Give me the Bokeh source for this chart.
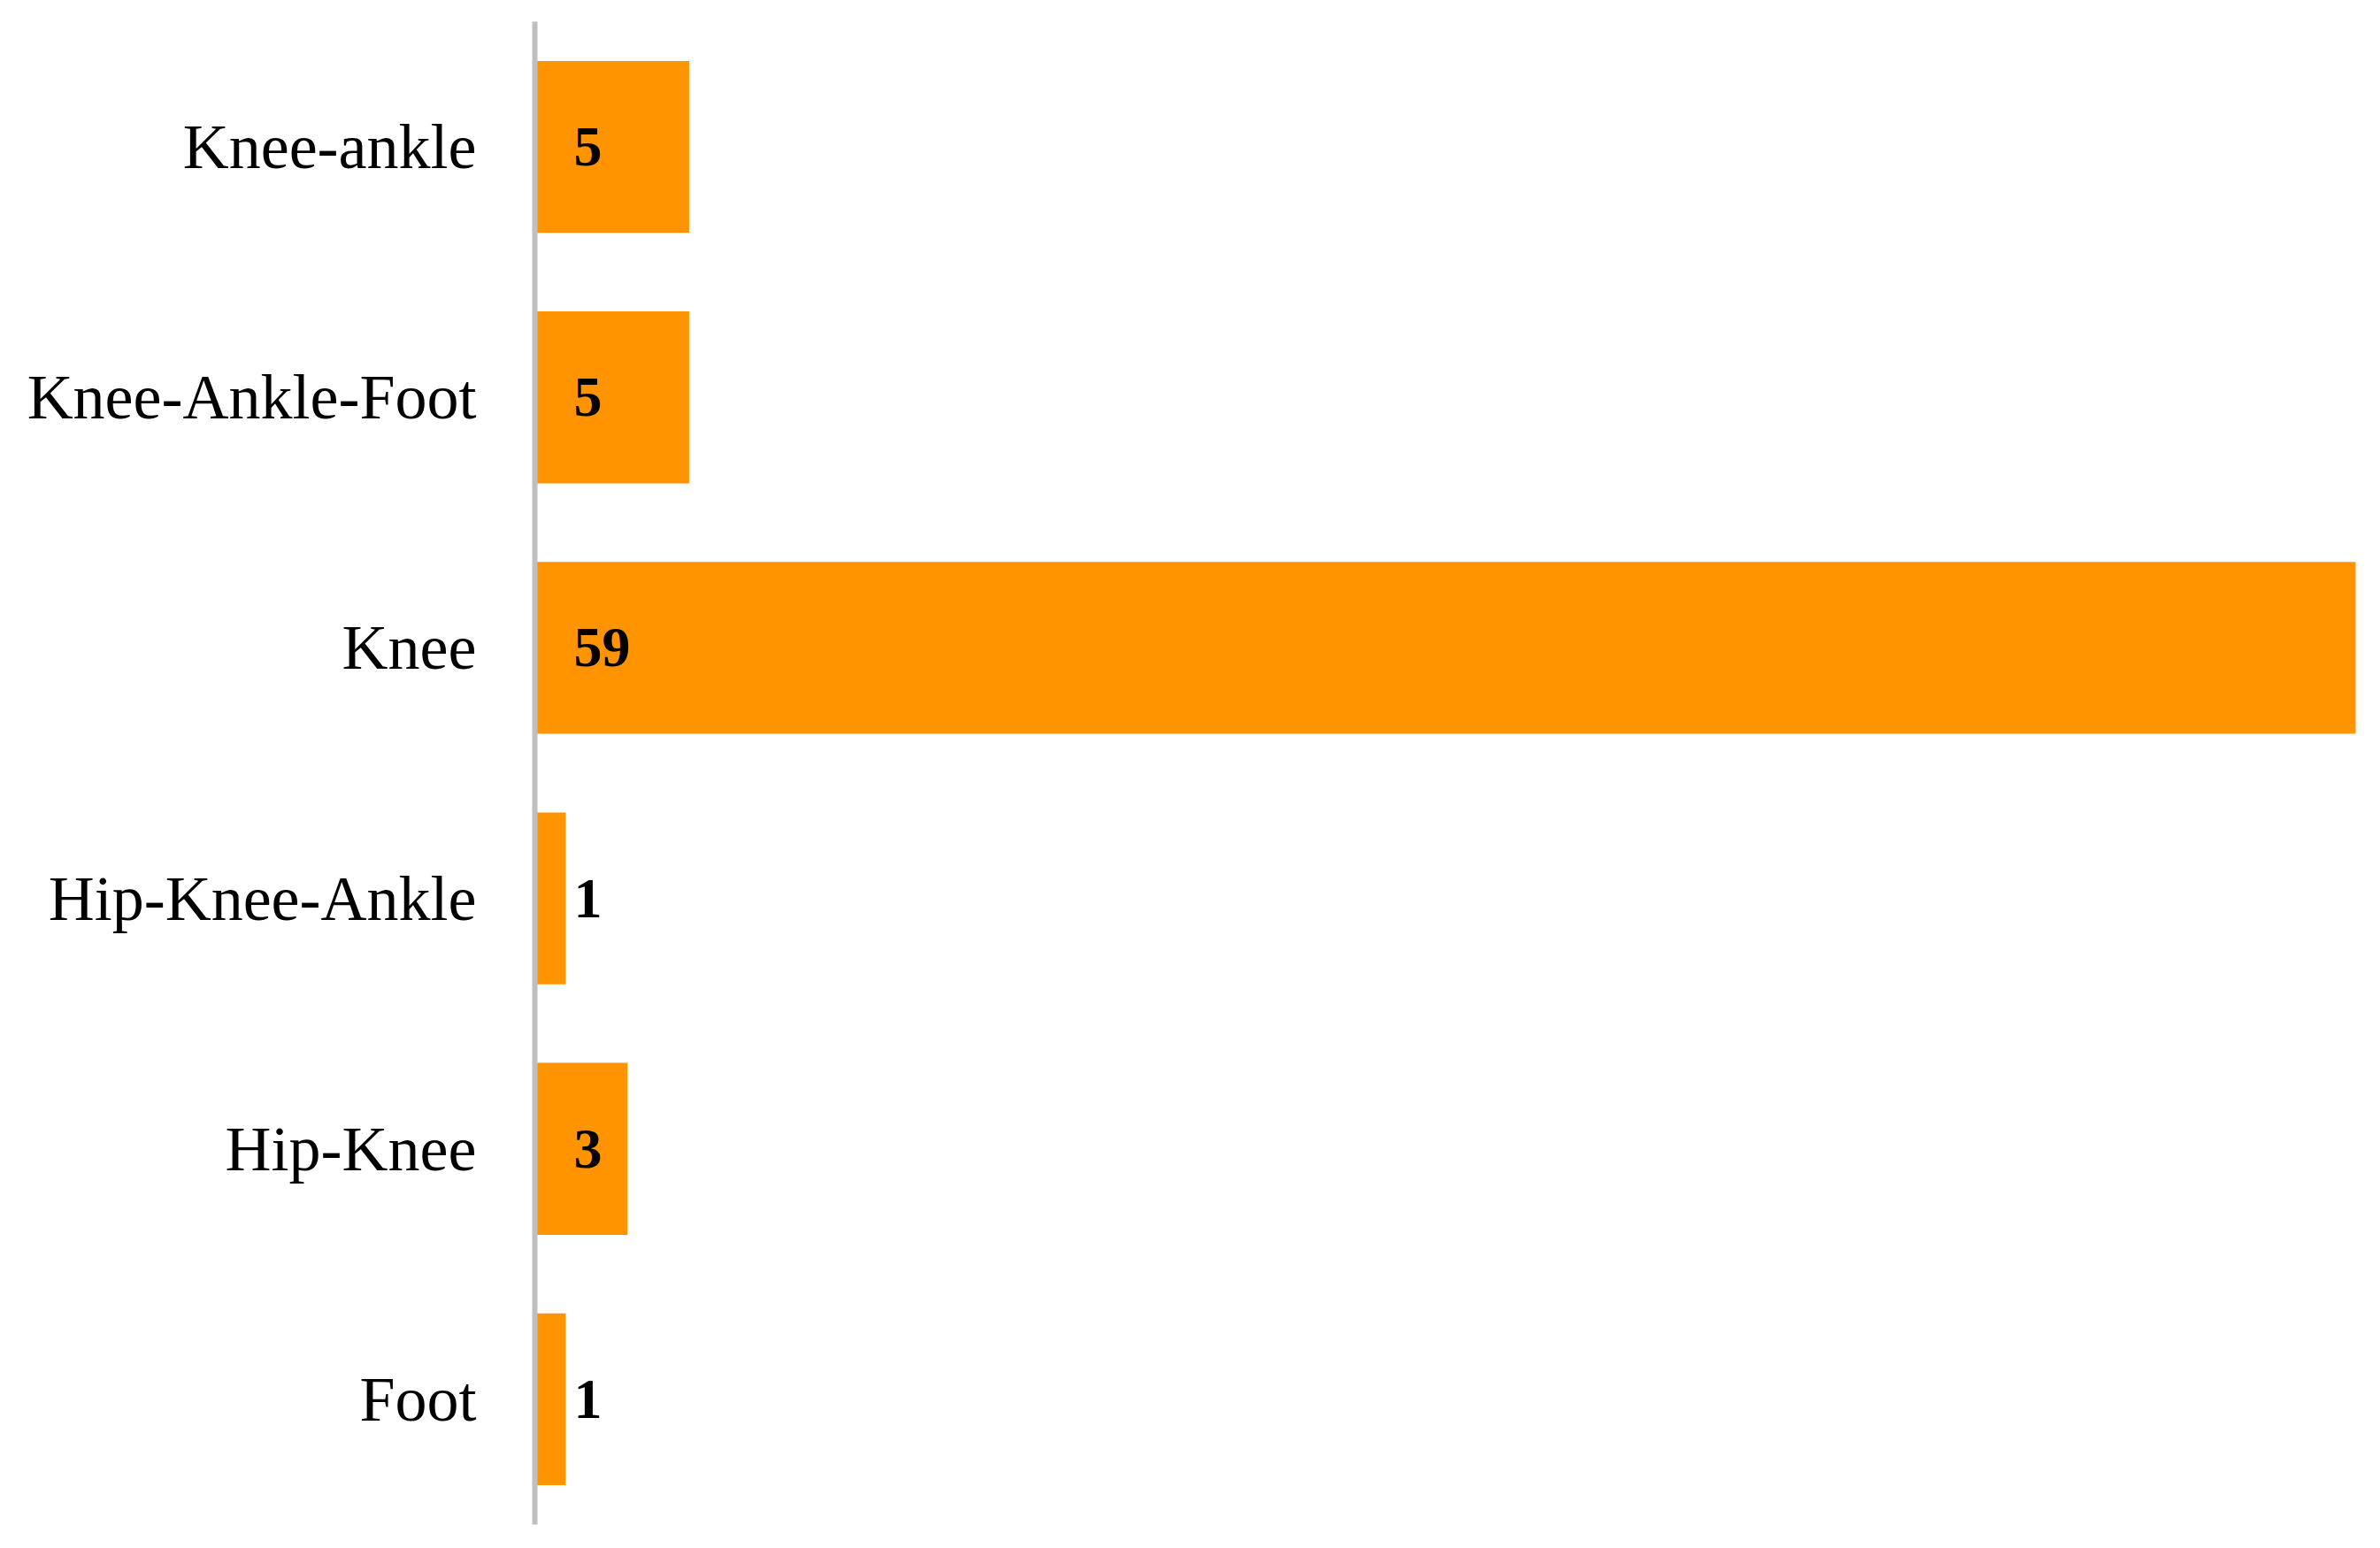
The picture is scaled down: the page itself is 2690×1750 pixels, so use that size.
from bokeh.plotting import figure
from bokeh.models import ColumnDataSource, FactorRange, Range1d
from bokeh.core.properties import value
from bokeh.embed import file_html
from bokeh.resources import INLINE

categories = ["Foot", "Hip-Knee", "Hip-Knee-Ankle", "Knee", "Knee-Ankle-Foot", "Knee-ankle"]
counts = [1, 3, 1, 59, 5, 5]
labels = [str(c) for c in counts]

src = ColumnDataSource(dict(cat=categories, n=counts, lab=labels, zero=[0] * len(counts)))

W, H = 2674, 1734
frame_left, frame_right = 604, 2672
frame_top, frame_bottom = 24, 1723

p = figure(width=W, height=H, output_backend="svg", toolbar_location=None,
           y_range=FactorRange(factors=categories, range_padding=0, factor_padding=0),
           x_range=Range1d(0, 59 * (frame_right - frame_left) / (2662 - frame_left)),
           x_axis_location=None,
           min_border_left=frame_left, min_border_right=W - frame_right,
           min_border_top=frame_top, min_border_bottom=H - frame_bottom)

p.hbar(y="cat", left=0, right="n", height=0.686, source=src,
       fill_color="#FF9400", line_color=None)

p.text(x="zero", y="cat", text="lab", source=src, x_offset=44,
       text_font=value("Liberation Serif"), text_font_style="bold",
       text_font_size="64px", text_baseline="middle", text_align="left",
       text_color="black")

p.xgrid.visible = False
p.ygrid.visible = False
p.outline_line_color = None
p.background_fill_color = "white"
p.border_fill_color = "white"

ax = p.yaxis[0]
ax.axis_line_color = "#BFBFBF"
ax.axis_line_width = 6
ax.major_tick_line_color = None
ax.minor_tick_line_color = None
ax.major_tick_out = 0
ax.major_tick_in = 0
ax.major_label_standoff = 66
ax.major_label_text_font = "Liberation Serif"
ax.major_label_text_font_size = "72px"
ax.major_label_text_color = "black"

open("out.html", "w").write(file_html(p, INLINE))
